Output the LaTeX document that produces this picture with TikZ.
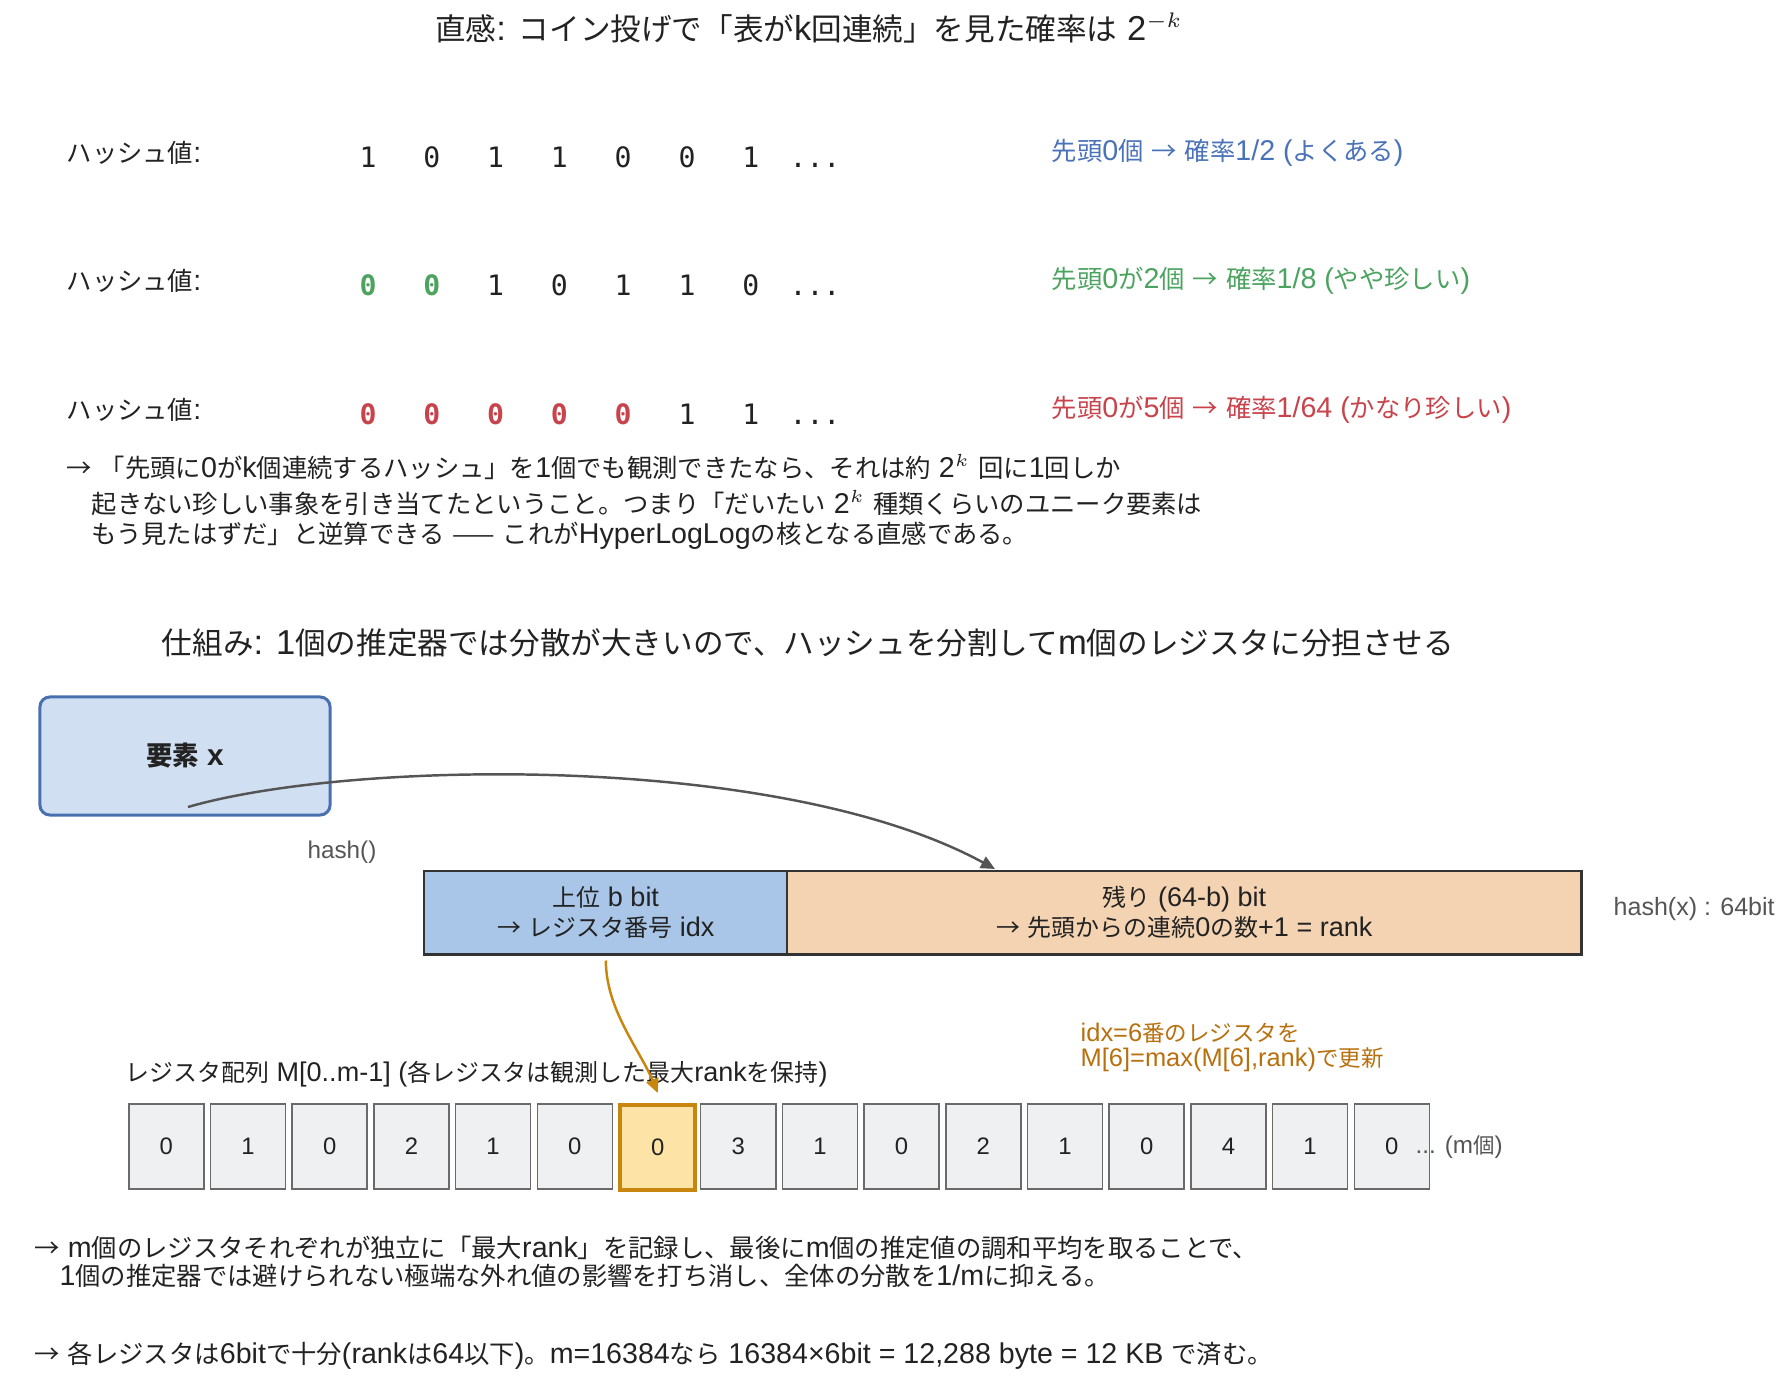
\documentclass[tikz,border=0pt]{standalone}
\usepackage{fontspec}
\setmainfont{Liberation Sans}[Scale=1.13]
\newfontfamily\latinfont{Liberation Sans}[Scale=1.13]
\newfontfamily\cjkfont{Noto Sans CJK JP}
\newfontfamily\bitfont{DejaVu Sans Mono}
\usetikzlibrary{arrows.meta}

% 和文と欧文のフォント切り替え
\XeTeXinterchartokenstate=1
\newXeTeXintercharclass\cjkclass
\count255="3000 \loop \XeTeXcharclass\count255=\cjkclass \advance\count255 by 1 \ifnum\count255<"3100 \repeat
\count255="4E00 \loop \XeTeXcharclass\count255=\cjkclass \advance\count255 by 1 \ifnum\count255<"A000 \repeat
\count255="FF00 \loop \XeTeXcharclass\count255=\cjkclass \advance\count255 by 1 \ifnum\count255<"FFF0 \repeat
\XeTeXcharclass"2192=\cjkclass
\XeTeXcharclass"2014=\cjkclass
\XeTeXinterchartoks 0 \cjkclass = {\cjkfont}
\XeTeXinterchartoks 4095 \cjkclass = {\cjkfont}
\XeTeXinterchartoks \cjkclass 0 = {\latinfont}
\XeTeXinterchartoks \cjkclass 4095 = {\latinfont}

\definecolor{txt}{HTML}{222222}
\definecolor{tblue}{HTML}{4A72B8}
\definecolor{tgreen}{HTML}{4BA35F}
\definecolor{tred}{HTML}{C8434B}
\definecolor{grytxt}{HTML}{555555}
\definecolor{elemfill}{HTML}{D0E0F2}
\definecolor{elemedge}{HTML}{4A6FB0}
\definecolor{hifill}{HTML}{A9C6E8}
\definecolor{lofill}{HTML}{F3D3B2}
\definecolor{baredge}{HTML}{333333}
\definecolor{regfill}{HTML}{EFF0F2}
\definecolor{regedge}{HTML}{6A6A6A}
\definecolor{selfill}{HTML}{FDE4A6}
\definecolor{seledge}{HTML}{C8860E}
\definecolor{notecol}{HTML}{B8700E}

\tikzset{
  headline/.style={font=\fontsize{8.7}{10}\selectfont,text=txt},
  bodytext/.style={anchor=west,font=\fontsize{7.2}{8}\selectfont,text=txt,inner sep=0pt},
  bitdigit/.style={font=\bitfont\fontsize{8}{9}\selectfont,inner sep=0pt,
    text height=0.73em,text depth=0pt},
  hotdigit/.style={bitdigit,font=\bitfont\bfseries\fontsize{8}{9}\selectfont},
  smallgray/.style={font=\fontsize{6.1}{7}\selectfont,text=grytxt,inner sep=0pt},
  regcell/.style={draw=regedge,fill=regfill,line width=0.45pt,anchor=north west,
    minimum width=0.75cm,minimum height=0.85cm,inner sep=0pt,
    font=\fontsize{6}{7}\selectfont,text=txt},
  selcell/.style={regcell,draw=seledge,fill=selfill,line width=1.15pt},
  barpart/.style={draw=baredge,line width=0.7pt,anchor=north west,inner sep=0pt,
    minimum height=0.83cm,align=center,font=\fontsize{6.8}{8.5}\selectfont,text=txt}
}

\begin{document}
\begin{tikzpicture}[x=0.01cm,y=-0.01cm]
\useasboundingbox (0,0) rectangle (1787,1395);
% 上段タイトル
\node[headline] (titleA) at (809,28) {直感: コイン投げで「表がk回連続」を見た確率は 2$^{-k}$};
% ハッシュ値の行
\node[bodytext] (rowA) at (66,153) {ハッシュ値:};
\node[bodytext] (rowB) at (66,281) {ハッシュ値:};
\node[bodytext] (rowC) at (66,410) {ハッシュ値:};
\foreach \b [count=\i from 0] in {1,0,1,1,0,0,1}
  \node[bitdigit,text=txt] (bitA\i) at (368+63.8*\i,153) {\b};
\foreach \b/\c [count=\i from 0] in {0/tgreen,0/tgreen,1/txt,0/txt,1/txt,1/txt,0/txt}
  \node[bitdigit,text=\c,\ifnum\i<2 hotdigit\fi] (bitB\i) at (368+63.8*\i,281) {\b};
\foreach \b/\c [count=\i from 0] in {0/tred,0/tred,0/tred,0/tred,0/tred,1/txt,1/txt}
  \node[bitdigit,text=\c,\ifnum\i<5 hotdigit\fi] (bitC\i) at (368+63.8*\i,410) {\b};
\node[bitdigit,text=txt] (dotsA) at (815,153) {...};
\node[bitdigit,text=txt] (dotsB) at (815,281) {...};
\node[bitdigit,text=txt] (dotsC) at (815,410) {...};
% 確率の注記
\node[bodytext,text=tblue] (probA) at (1051,153) {先頭0個 → 確率1/2 (よくある)};
\node[bodytext,text=tgreen] (probB) at (1051,281) {先頭0が2個 → 確率1/8 (やや珍しい)};
\node[bodytext,text=tred] (probC) at (1051,410) {先頭0が5個 → 確率1/64 (かなり珍しい)};
% 説明文
\node[bodytext] (paraA) at (66,467) {→ 「先頭に0がk個連続するハッシュ」を1個でも観測できたなら、それは約 2$^{k}$ 回に1回しか};
\node[bodytext] (paraB) at (91,503) {起きない珍しい事象を引き当てたということ。つまり「だいたい 2$^{k}$ 種類くらいのユニーク要素は};
\node[bodytext] (paraC) at (91,536) {もう見たはずだ」と逆算できる —— これがHyperLogLogの核となる直感である。};
% 下段タイトル
\node[headline] (titleB) at (808,643) {仕組み: 1個の推定器では分散が大きいので、ハッシュを分割してm個のレジスタに分担させる};
% 要素x
\node[draw=elemedge,fill=elemfill,line width=0.85pt,rounded corners=0.1cm,
  minimum width=2.9cm,minimum height=1.18cm,font=\fontsize{7.5}{9}\selectfont\bfseries,text=txt]
  (elem) at (185,756) {要素 x};
\node[smallgray] (hashfn) at (342,852) {hash()};
% ハッシュ値のビット列
\node[barpart,fill=hifill,minimum width=3.63cm] (hibits) at (423,870) {上位 b bit\\→ レジスタ番号 idx};
\node[barpart,fill=lofill,minimum width=7.94cm] (lobits) at (786,870) {残り (64-b) bit\\→ 先頭からの連続0の数+1 = rank};
\node[smallgray,anchor=west,font=\fontsize{6.3}{7}\selectfont] (hashlen) at (1613,909) {hash(x) : 64bit};
% hash() の矢印
\coordinate (hstart) at (188,807);
\coordinate (hend) at (995,869);
\draw[line width=0.7pt,draw=grytxt,-{Triangle[length=4pt,width=3.6pt]}]
  (hstart) .. controls (350,760) and (780,752) .. (hend);
% レジスタ配列
\node[bodytext,font=\fontsize{6.8}{8}\selectfont] (reglabel) at (125,1074) {レジスタ配列 M[0..m-1] (各レジスタは観測した最大rankを保持)};
\foreach \v [count=\i from 0] in {0,1,0,2,1,0,0,3,1,0,2,1,0,4,1,0}{
  \ifnum\i=6 \def\cellstyle{selcell}\else\def\cellstyle{regcell}\fi
  \node[\cellstyle] (reg\i) at (128+81.7*\i,1103) {\v};
}
\node[smallgray,anchor=west] (regmore) at (1415,1147) {... (m個)};
% idx の矢印と注記
\draw[line width=0.7pt,draw=seledge,-{Triangle[length=4pt,width=3.6pt]}]
  ([yshift=-0.05cm]hibits.south) .. controls (606,1010) and (640,1050) .. ([yshift=0.1cm]reg6.north);
\node[bodytext,text=notecol,font=\fontsize{6.4}{7}\selectfont] (noteA) at (1080,1033) {idx=6番のレジスタを};
\node[bodytext,text=notecol,font=\fontsize{6.4}{7}\selectfont] (noteB) at (1080,1060) {M[6]=max(M[6],rank)で更新};
% まとめ
\node[bodytext] (sumA) at (34,1248) {→ m個のレジスタそれぞれが独立に「最大rank」を記録し、最後にm個の推定値の調和平均を取ることで、};
\node[bodytext] (sumB) at (59,1276) {1個の推定器では避けられない極端な外れ値の影響を打ち消し、全体の分散を1/mに抑える。};
\node[bodytext] (sumC) at (34,1356) {→ 各レジスタは6bitで十分(rankは64以下)。m=16384なら 16384×6bit = 12,288 byte = 12 KB で済む。};
\end{tikzpicture}
\end{document}
